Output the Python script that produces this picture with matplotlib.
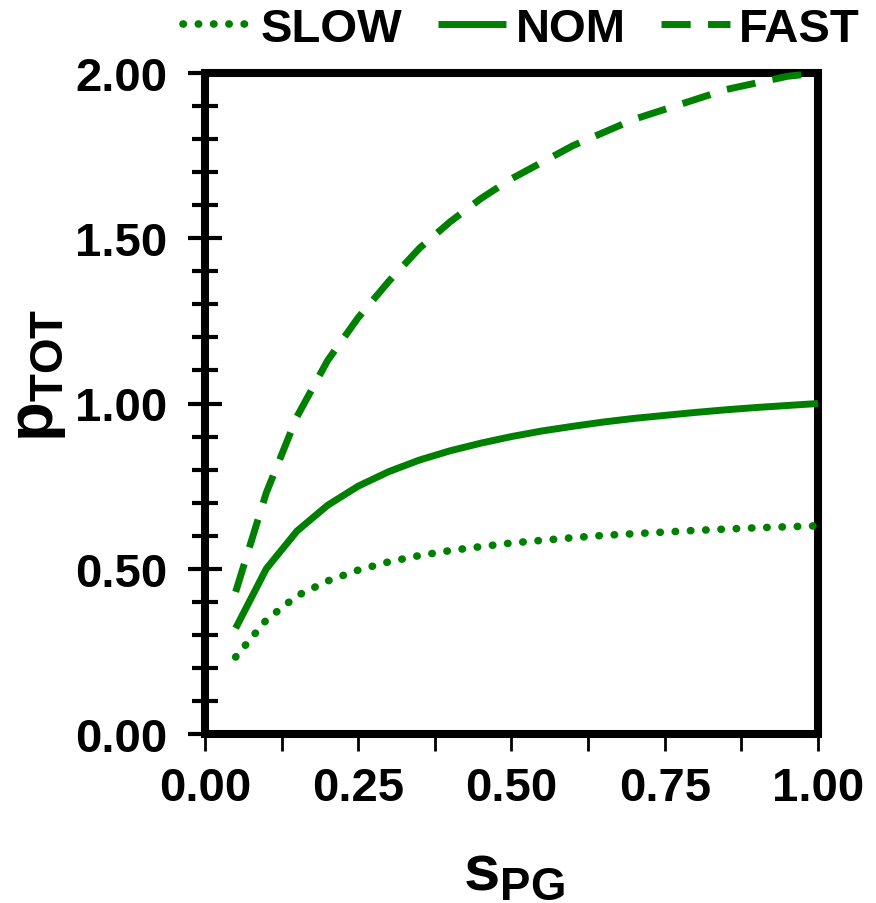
import numpy as np
import matplotlib
matplotlib.use("Agg")
import matplotlib.pyplot as plt
from matplotlib.ticker import MultipleLocator, FormatStrFormatter

plt.rcParams['font.family'] = ['Liberation Sans', 'DejaVu Sans']
plt.rcParams['font.weight'] = 'bold'
plt.rcParams['mathtext.fontset'] = 'custom'
plt.rcParams['mathtext.rm'] = 'Liberation Sans:bold'
plt.rcParams['mathtext.bf'] = 'Liberation Sans:bold'
plt.rcParams['mathtext.it'] = 'Liberation Sans:bold'

# s_PG values (x) and p_TOT for each speed corner
s_pg = [0.05, 0.10, 0.15, 0.20, 0.25, 0.30, 0.35, 0.40, 0.45, 0.50,
        0.55, 0.60, 0.65, 0.70, 0.75, 0.80, 0.85, 0.90, 0.95, 1.00]
p_slow = [0.233, 0.345, 0.418, 0.463, 0.496, 0.521, 0.540, 0.555, 0.567, 0.578,
          0.586, 0.594, 0.601, 0.606, 0.611, 0.616, 0.620, 0.624, 0.627, 0.630]
p_nom = [0.32, 0.50, 0.614, 0.692, 0.75, 0.794, 0.829, 0.857, 0.880, 0.90,
         0.917, 0.931, 0.944, 0.955, 0.964, 0.973, 0.981, 0.988, 0.994, 1.00]
p_fast = [0.43, 0.73, 0.96, 1.13, 1.26, 1.37, 1.47, 1.55, 1.62, 1.68,
          1.73, 1.78, 1.82, 1.86, 1.89, 1.92, 1.95, 1.97, 1.99, 2.00]

green = '#008000'

fig = plt.figure(figsize=(8.76, 9.04), dpi=100)
ax = fig.add_axes([205/876, 169/904, 613/876, 661/904])

l_slow, = ax.plot(s_pg, p_slow, color=green, lw=5.5, linestyle=(0, (0.05, 1.95)),
                  dash_capstyle='round', clip_on=False, zorder=3)
l_nom, = ax.plot(s_pg, p_nom, color=green, lw=5, solid_capstyle='butt', clip_on=False, zorder=3)
l_fast, = ax.plot(s_pg, p_fast, color=green, lw=5, linestyle=(0, (4.2, 2.5)),
                  dash_capstyle='butt', clip_on=False, zorder=3)

ax.set_xlim(0, 1)
ax.set_ylim(0, 2)
ax.xaxis.set_major_locator(MultipleLocator(0.25))
ax.xaxis.set_minor_locator(MultipleLocator(0.125))
ax.yaxis.set_major_locator(MultipleLocator(0.5))
ax.yaxis.set_minor_locator(MultipleLocator(0.1))
ax.xaxis.set_major_formatter(FormatStrFormatter('%.2f'))
ax.yaxis.set_major_formatter(FormatStrFormatter('%.2f'))

for sp in ax.spines.values():
    sp.set_linewidth(5.8)
    sp.set_zorder(2)

ax.tick_params(axis='y', which='major', direction='inout', length=24, width=3,
               pad=15, labelsize=34)
ax.tick_params(axis='y', which='minor', direction='inout', length=19, width=3)
ax.tick_params(axis='x', which='both', direction='out', length=12, width=2)
ax.tick_params(axis='x', which='major', pad=11, labelsize=34)

fig.text(514/876, (904-890)/904, r'$\mathbf{s}_{\mathbf{PG}}$', fontsize=47,
         ha='center', va='baseline')
fig.text(53/876, (904-375)/904, r'$\mathbf{p}_{\mathbf{TOT}}$', fontsize=47,
         ha='center', va='baseline', rotation=90, rotation_mode='anchor')

fig.legend([l_slow, l_nom, l_fast], ['SLOW', 'NOM', 'FAST'], loc='center',
           bbox_to_anchor=(0.595, 1 - 30/904), ncol=3, frameon=False,
           fontsize=34, handlelength=1.45, handletextpad=0.2, columnspacing=0.75,
           borderaxespad=0, borderpad=0)

fig.savefig('out.png', dpi=100)
